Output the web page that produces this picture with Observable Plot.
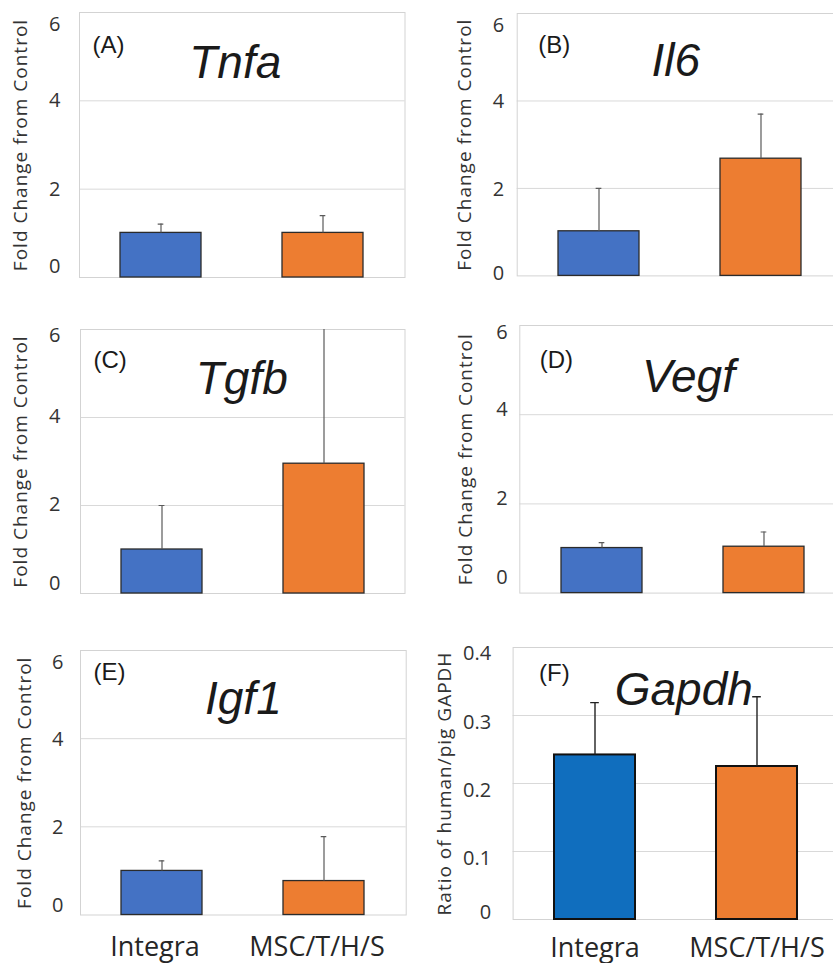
<!DOCTYPE html>
<html><head><meta charset="utf-8">
<script src="https://cdn.jsdelivr.net/npm/d3@7"></script>
<script src="https://cdn.jsdelivr.net/npm/@observablehq/plot@0.6"></script>
<style>
body{margin:0;background:#fff;}
#fig{position:relative;width:833px;height:963px;overflow:hidden;background:#fff;}
.panel{position:absolute;}
.panel svg{overflow:visible;max-width:none !important;}
g[aria-label="y-axis label"] text{letter-spacing:1px;}
</style></head><body><div id="fig"></div>
<script>
// ---- data ----
const groups = ["Integra", "MSC/T/H/S"];
const genes = ["Tnfa", "Il6", "Tgfb", "Vegf", "Igf1", "Gapdh"];
const panelTags = ["(A)", "(B)", "(C)", "(D)", "(E)", "(F)"];
const integraMean = [1.01, 1.02, 1.0, 1.01, 1.0, 0.242];
const integraErr  = [0.20, 0.98, 1.0, 0.12, 0.23, 0.077];
const mscMean     = [1.01, 2.68, 2.95, 1.04, 0.77, 0.225];
const mscErr      = [0.39, 1.02, 3.5, 0.33, 1.01, 0.1025];
const foldTicks = [0, 2, 4, 6];
const ratioTicks = [0, 0.1, 0.2, 0.3, 0.4];
const yTitles = ["Fold Change from Control", "Fold Change from Control", "Fold Change from Control",
                 "Fold Change from Control", "Fold Change from Control", "Ratio of human/pig GAPDH"];
const panelTicks = [foldTicks, foldTicks, foldTicks, foldTicks, foldTicks, ratioTicks];

// ---- layout / style ----
const layout = [
  {left:0,   fx0:79,    fx1:404.5, fy0:12.3,  fy1:277.3, tickPad:19, dys:[-11,0,12], labelOff:66, titleDx:-7, titleDy:65, tagDx:13, tagDy:33, xAxis:false},
  {left:420, fx0:516.7, fx1:842,   fy0:13.3,  fy1:275.7, tickPad:13, dys:[-2,1,12],  labelOff:60, titleDx:-4, titleDy:63, tagDx:21, tagDy:32, xAxis:false},
  {left:0,   fx0:80,    fx1:404.5, fy0:328.7, fy1:592.7, tickPad:20, dys:[-10,-1,6], labelOff:67, titleDx:-1, titleDy:64, tagDx:13, tagDy:31, xAxis:false},
  {left:420, fx0:519.3, fx1:844.7, fy0:324.7, fy1:592.3, tickPad:12, dys:[-16,-5,7], labelOff:61, titleDx:6,  titleDy:67, tagDx:20, tagDy:35, xAxis:false},
  {left:0,   fx0:80,    fx1:405.7, fy0:650,   fy1:914.5, tickPad:17, dys:[-9,1,12],  labelOff:63, titleDx:0,  titleDy:63, tagDx:13, tagDy:22, xAxis:true, xdx:-7, xPad:22},
  {left:420, fx0:512.6, fx1:838,   fy0:646.7, fy1:918.7, tickPad:22, dys:[-7,7,6],   labelOff:76, titleDx:8,  titleDy:57, tagDx:26, tagDy:26, xAxis:true, xdx:0, xPad:18}
];
const colorsStd = ["#4472C4", "#ED7D31"];
const colorsF = ["#106EBE", "#ED7D31"];
const sansFont = "'Open Sans', 'Noto Sans', sans-serif";
const titleFont = "'Liberation Sans', Arial, sans-serif";
const fmt = d3.format("~g");

const fig = document.getElementById("fig");

genes.forEach((gene, i) => {
  const L = layout[i];
  const isF = i === 5;
  const ticks = panelTicks[i];
  const rows = groups.map((g, j) => ({
    group: g,
    mean: j === 0 ? integraMean[i] : mscMean[i],
    err: j === 0 ? integraErr[i] : mscErr[i]
  }));
  const colors = isF ? colorsF : colorsStd;
  const svgW = L.left === 0 ? 420 : 430;
  const mt = 12, mb = L.xAxis ? 50 : 12;
  const marginLeft = L.fx0 - L.left;
  const marginRight = svgW - (L.fx1 - L.left);
  const height = (L.fy1 - L.fy0) + mt + mb;
  const bw = (L.fx1 - L.fx0) / 2 * 0.5;
  const capW = isF ? 9 : 6;
  const capInset = (bw - capW) / 2;
  const axisOpts = {tickSize: 0, tickPadding: L.tickPad, fontSize: 20, label: null, fill: "#333", tickFormat: fmt};

  const marks = [
    Plot.gridY(ticks.slice(1, -1), {stroke: "#d9d9d9", strokeOpacity: 1}),
    Plot.frame({stroke: "#d3d3d3"}),
    Plot.barY(rows, {x: "group", y: "mean", fill: "group",
      stroke: isF ? "#111" : "#2b2b2b", strokeWidth: isF ? 2 : 1.3}),
    Plot.ruleX(rows, {x: "group", y1: "mean", y2: d => d.mean + d.err,
      stroke: isF ? "#222" : "#5a5a5a", strokeWidth: isF ? 1.4 : 1.2, clip: true}),
    Plot.tickY(rows, {x: "group", y: d => d.mean + d.err, insetLeft: capInset, insetRight: capInset,
      stroke: isF ? "#222" : "#5a5a5a", strokeWidth: isF ? 1.4 : 1.2, clip: true}),
    Plot.axisY([ticks[0]], {...axisOpts, dy: L.dys[0]}),
    Plot.axisY(ticks.slice(1, -1), {...axisOpts, dy: L.dys[1]}),
    Plot.axisY([ticks[ticks.length - 1]], {...axisOpts, dy: L.dys[2]}),
    Plot.axisY([], {tickSize: 0, label: yTitles[i], labelAnchor: "center", labelArrow: "none",
      labelOffset: L.labelOff, fontSize: 19, fill: "#333"}),
    Plot.text([gene], {frameAnchor: "top", text: d => d, dx: L.titleDx, dy: L.titleDy, lineAnchor: "bottom",
      fontSize: 46, fontStyle: "italic", fontFamily: titleFont, fill: "#1a1a1a"}),
    Plot.text([panelTags[i]], {frameAnchor: "top-left", text: d => d, textAnchor: "start", lineAnchor: "middle",
      dx: L.tagDx, dy: L.tagDy, fontSize: 24, fontFamily: titleFont, fill: "#1a1a1a"})
  ];
  if (L.xAxis) {
    marks.push(Plot.axisX({tickSize: 0, tickPadding: L.xPad, fontSize: 27, dx: L.xdx, label: null, fill: "#262626"}));
  }

  const chart = Plot.plot({
    width: svgW,
    height,
    marginLeft, marginRight, marginTop: mt, marginBottom: mb,
    style: {fontFamily: sansFont, background: "transparent", overflow: "visible", color: "#333", maxWidth: "none"},
    x: {type: "band", domain: groups, paddingInner: 0.5, paddingOuter: 0.25, axis: null},
    y: {domain: [ticks[0], ticks[ticks.length - 1]], axis: null},
    color: {domain: groups, range: colors},
    marks
  });
  const div = document.createElement("div");
  div.className = "panel";
  div.style.left = L.left + "px";
  div.style.top = (L.fy0 - mt) + "px";
  div.style.width = svgW + "px";
  div.style.height = height + "px";
  div.appendChild(chart);
  fig.appendChild(div);
});
</script>
</body></html>
